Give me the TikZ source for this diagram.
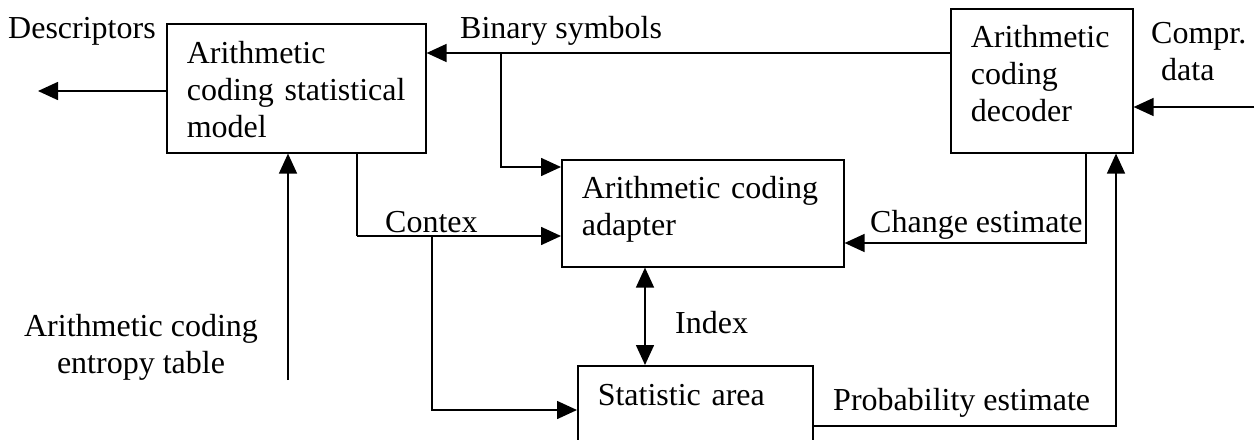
\documentclass[tikz,border=0pt]{standalone}
\usepackage{fontspec}
\setmainfont{Liberation Serif}
\usepackage{tikz}
\usetikzlibrary{arrows.meta}

\tikzset{
    box/.style={draw, line width=1.6pt, anchor=north west, align=left, inner xsep=20pt, inner ysep=0pt},
    lbl/.style={inner sep=0pt, anchor=base west},
    arr/.style={line width=1.6pt, -{Triangle[length=20pt, width=18pt]}},
    dbl/.style={line width=1.6pt, {Triangle[length=20pt, width=18pt]}-{Triangle[length=20pt, width=18pt]}},
    wire/.style={line width=1.6pt}
}

\begin{document}
\begin{tikzpicture}[x=1pt, y=-1pt, font=\fontsize{32}{37}\selectfont]
    \useasboundingbox (0, 0) rectangle (1258, 439);

    % boxes
    \node[box, text width=219pt, minimum width=259pt, text height=40pt, text depth=89pt] (model) at (166, 23)
        {Arithmetic\\coding statistical\\model};
    \node[box, text width=142pt, minimum width=182pt, text height=39pt, text depth=105pt] (dec) at (950, 8)
        {Arithmetic\\coding\\decoder};
    \node[box, text width=242pt, minimum width=282pt, text height=39pt, text depth=68pt] (adapt) at (561, 159)
        {Arithmetic coding\\adapter};
    \node[box, text width=195pt, minimum width=235pt, text height=40pt, text depth=70pt] (stat) at (577, 365)
        {Statistic area};

    % labels
    \node[lbl] (desc) at (8, 38) {Descriptors};
    \node[lbl] (bin) at (460, 38) {Binary symbols};
    \node[lbl, align=left] (compr) at (1151, 80) {Compr.\\\hspace*{10pt}data};
    \node[lbl] (contex) at (385, 232) {Contex};
    \node[lbl] (change) at (870, 232) {Change estimate};
    \node[lbl] (index) at (675, 333) {Index};
    \node[lbl] (probab) at (833, 410) {Probability estimate};
    \node[inner sep=0pt, anchor=base, align=center] (entropy) at (141, 373)
        {Arithmetic coding\\entropy table};

    % free ends and bends
    \coordinate (dout) at (38, 91);
    \coordinate (ein) at (288, 380);
    \coordinate (cin) at (1254, 107);
    \coordinate (bline) at (0, 53);
    \coordinate (bsplit) at (501, 53);
    \coordinate (bin2) at (0, 167);
    \coordinate (ctx) at (357, 236);
    \coordinate (csplit) at (432, 236);
    \coordinate (sin) at (0, 410);
    \coordinate (idx) at (645, 0);
    \coordinate (chg) at (1086, 243);
    \coordinate (prob) at (1116, 426);

    % descriptors out, entropy table in
    \draw[arr] (model.west |- dout) -- (dout);
    \draw[arr] (ein) -- (ein |- model.south);

    % binary symbols
    \draw[arr] (dec.west |- bline) -- (model.east |- bline);
    \draw[arr] (bsplit) |- (adapt.west |- bin2);

    % contex
    \draw[wire] (model.south -| ctx) -- (ctx);
    \draw[arr] (ctx) -- (adapt.west |- ctx);
    \draw[arr] (csplit) |- (stat.west |- sin);

    % index
    \draw[dbl] (adapt.south -| idx) -- (stat.north -| idx);

    % decoder side
    \draw[arr] (cin) -- (dec.east |- cin);
    \draw[arr] (dec.south -| chg) |- (adapt.east |- chg);
    \draw[arr] (stat.east |- prob) -| (dec.south -| prob);
\end{tikzpicture}
\end{document}
